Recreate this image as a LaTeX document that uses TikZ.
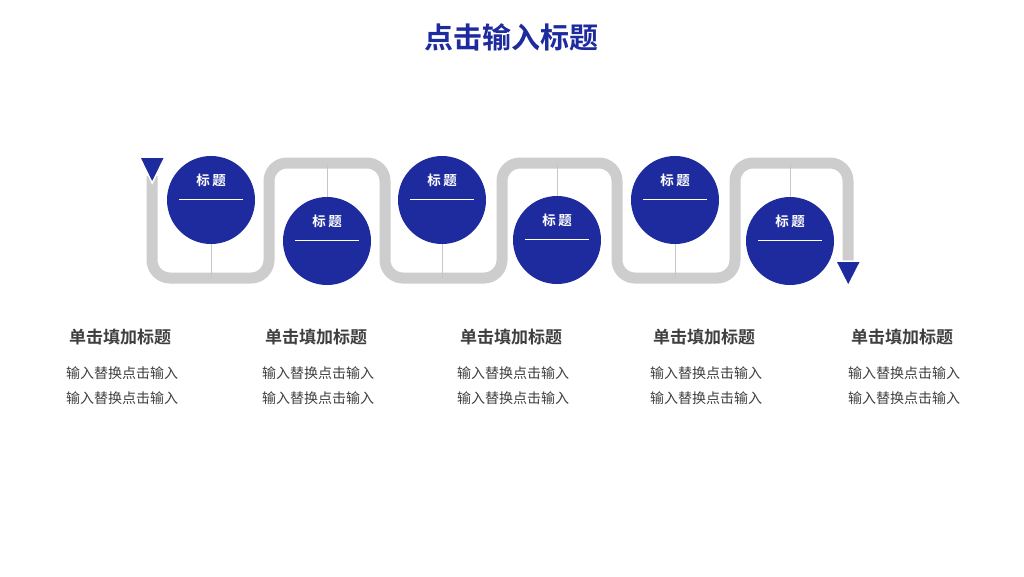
\documentclass[tikz,border=0pt]{standalone}
\usepackage{fontspec}
\newfontfamily\cjk{Noto Sans CJK SC}[BoldFont={Noto Sans CJK SC Bold}]
\definecolor{mainblue}{HTML}{1E2B9E}
\definecolor{trackgray}{HTML}{CDCDCD}
\definecolor{thingray}{HTML}{C6C6C6}
\definecolor{txtgray}{HTML}{3F3F3F}
\begin{document}
\begin{tikzpicture}[x=1pt,y=-1pt,
  track/.style={draw=trackgray,line width=11pt,rounded corners=18pt},
  thin/.style={draw=thingray,line width=1pt},
  stepcircle/.style={circle,fill=mainblue,minimum size=88pt,inner sep=0pt},
  circlabel/.style={text=white,font=\cjk\bfseries\fontsize{13.5}{15}\selectfont,inner sep=0pt},
  marker/.style={fill=mainblue,draw=white,line width=1.5pt},
  heading/.style={text=txtgray,font=\cjk\bfseries\fontsize{17}{19}\selectfont,inner sep=0pt},
  bodytext/.style={text=txtgray,font=\cjk\fontsize{14}{16}\selectfont,inner sep=0pt}
]
\useasboundingbox[fill=white] (0,0) rectangle (1024,576);

\node[text=mainblue,font=\cjk\bfseries\fontsize{29}{32}\selectfont,inner sep=0pt] (title) at (511,37) {点击输入标题};

% track
\draw[track] (152,176) -- (152,278) -- (269,278) -- (269,163) -- (385,163) -- (385,278)
  -- (502,278) -- (502,163) -- (617,163) -- (617,278) -- (735,278) -- (735,163)
  -- (848,163) -- (848,268);

% track contact points
\coordinate (t1) at (211,278);
\coordinate (t2) at (327,163);
\coordinate (t3) at (442,278);
\coordinate (t4) at (557,163);
\coordinate (t5) at (675,278);
\coordinate (t6) at (790,163);

% circles
\node[stepcircle] (c1) at (211,200) {};
\node[stepcircle] (c2) at (327,241) {};
\node[stepcircle] (c3) at (442,200) {};
\node[stepcircle] (c4) at (557,240) {};
\node[stepcircle] (c5) at (675,200) {};
\node[stepcircle] (c6) at (790,241) {};

\foreach \i in {1,3,5} {\draw[thin] (c\i.south) -- (t\i);}
\foreach \i in {2,4,6} {\draw[thin] (c\i.north) -- (t\i);}

\foreach \i in {1,...,6} {
  \node[circlabel] (l\i) at ([yshift=19.5pt]c\i.center) {标\hspace{2.5pt}题};
  \draw[white,line width=0.8pt] ([xshift=-32pt,yshift=0.5pt]c\i.center) -- ([xshift=32pt,yshift=0.5pt]c\i.center);
}

% markers
\draw[marker] (139.5,157) -- (165,157) -- (152.2,183) -- cycle;
\draw[marker] (835.5,261) -- (861,261) -- (848.2,286) -- cycle;

% text columns
\foreach \x [count=\k] in {120,316,511,704,902} {
  \node[heading] (h\k) at (\x,337) {单击填加标题};
  \node[bodytext] (a\k) at (\x+2,373) {输入替换点击输入};
  \node[bodytext] (b\k) at (\x+2,398) {输入替换点击输入};
}
\end{tikzpicture}
\end{document}
